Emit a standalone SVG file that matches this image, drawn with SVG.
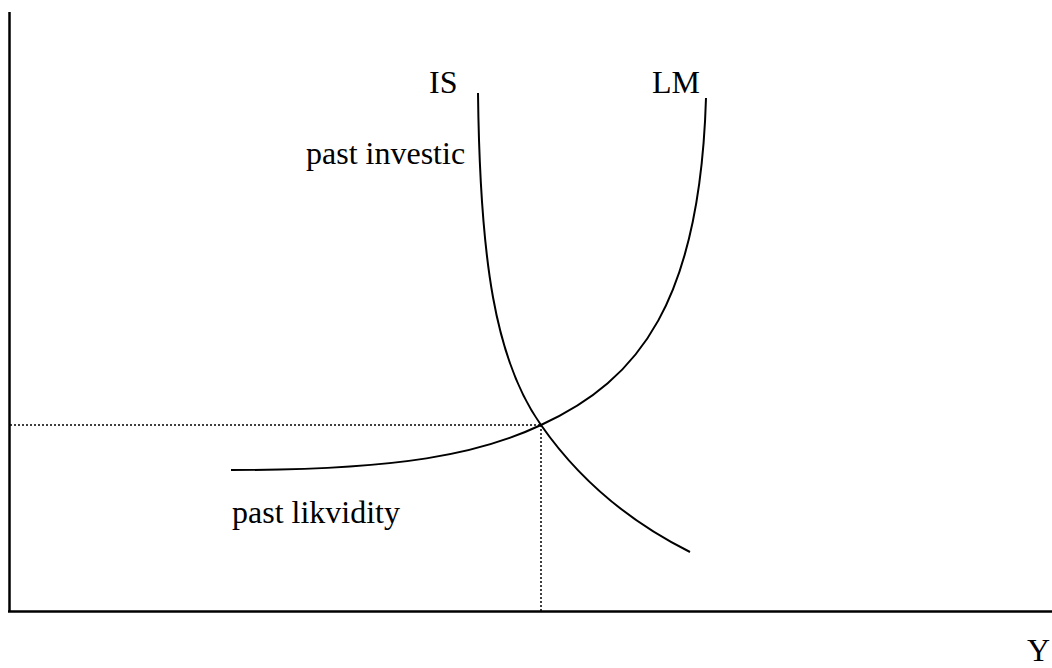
<svg xmlns="http://www.w3.org/2000/svg" width="1052" height="668" viewBox="0 0 1052 668">
<style>
.lbl{font-family:"Liberation Serif","Times New Roman",serif;font-size:32px;fill:#000}
.axis{stroke:#000;stroke-width:2.5;fill:none}
.curve{stroke:#000;stroke-width:2;fill:none}
.dot{stroke:#000;stroke-width:1.5;stroke-dasharray:2 2;fill:none}
</style>
<rect width="1052" height="668" fill="#fff"/>
<g id="axes">
<line class="axis" x1="9.5" y1="12" x2="9.5" y2="612"/>
<line class="axis" x1="8" y1="611.5" x2="1052" y2="611.5"/>
</g>
<g id="guides">
<line class="dot" x1="10" y1="425" x2="541" y2="425"/>
<line class="dot" x1="541" y1="425" x2="541" y2="611"/>
</g>
<g id="IS">
<path class="curve" d="M478,93 C480,260 495,360 541,425 C580,481 630,522 690,552"/>
<text class="lbl" x="429" y="93">IS</text>
<text class="lbl" x="306" y="164">past investic</text>
</g>
<g id="LM">
<path class="curve" d="M231,470 C400,470 480,454 541,425 C640,380 700,300 706,98"/>
<text class="lbl" x="652" y="93">LM</text>
<text class="lbl" x="232" y="523">past likvidity</text>
</g>
<g id="Y">
<text class="lbl" x="1027" y="661">Y</text>
</g>
</svg>
